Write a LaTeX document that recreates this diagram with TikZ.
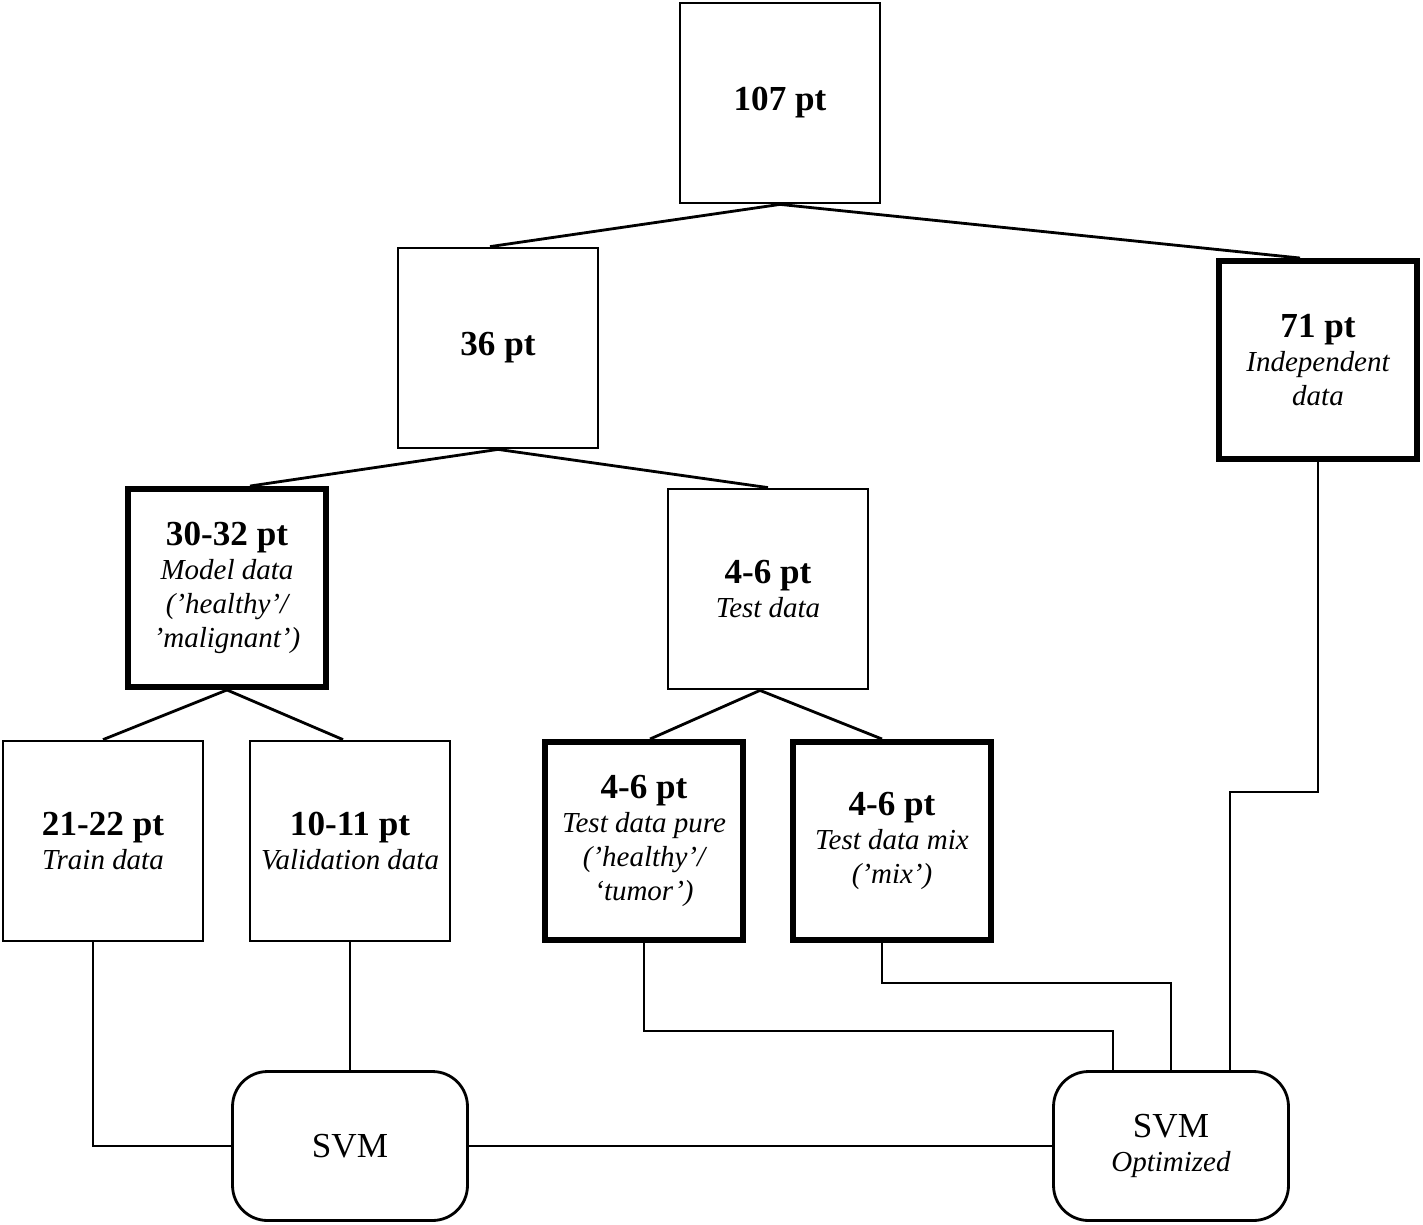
\documentclass[tikz,border=0pt]{standalone}
\usepackage{fontspec}
\setmainfont{Liberation Serif}
\usetikzlibrary{positioning,calc}

\newcommand{\ptnum}[1]{{\fontsize{20}{22}\selectfont\bfseries #1}}
\newcommand{\ptdesc}[1]{{\itshape #1}}

\begin{document}
\begin{tikzpicture}[
  x=0.02cm, y=-0.02cm,
  box/.style={rectangle, draw, line width=1.6pt, align=center, minimum width=4.0cm, minimum height=4.0cm, inner sep=2pt, font=\fontsize{16.5}{19.3}\selectfont},
  boldbox/.style={box, line width=3.4pt, minimum width=3.96cm, minimum height=3.96cm},
  svmbox/.style={rectangle, draw, rounded corners=0.7cm, line width=1.6pt, align=center, minimum width=4.7cm, minimum height=2.98cm, font=\fontsize{16.5}{19.3}\selectfont},
  link/.style={line width=1.6pt},
]
\useasboundingbox (0,0) rectangle (1423,1224);

% === SPLIT TREE ===
\node[box] (all) at (780,103) {\ptnum{107 pt}};
\node[box] (sub) at (498,348) {\ptnum{36 pt}};
\node[boldbox] (indep) at (1318,360) {\ptnum{71 pt}\\\ptdesc{Independent}\\\ptdesc{data}};
\node[boldbox] (model) at (227,588) {\ptnum{30-32 pt}\\\ptdesc{Model data}\\\ptdesc{(’healthy’/}\\\ptdesc{’malignant’)}};
\node[box] (test) at (768,589) {\ptnum{4-6 pt}\\\ptdesc{Test data}};
\node[box] (train) at (103,841) {\ptnum{21-22 pt}\\\ptdesc{Train data}};
\node[box] (valid) at (350,841) {\ptnum{10-11 pt}\\\ptdesc{Validation data}};
\node[boldbox] (pure) at (644,841) {\ptnum{4-6 pt}\\\ptdesc{Test data pure}\\\ptdesc{(’healthy’/}\\\ptdesc{‘tumor’)}};
\node[boldbox] (mix) at (892,841) {\ptnum{4-6 pt}\\\ptdesc{Test data mix}\\\ptdesc{(’mix’)}};

\draw[link] (all.south) -- ([xshift=-0.16cm]sub.north);
\draw[link] (all.south) -- ([xshift=-0.36cm]indep.north);
\draw[link] (sub.south) -- ([xshift=0.46cm]model.north);
\draw[link] (sub.south) -- (test.north);
\draw[link] (model.south) -- (train.north);
\draw[link] (model.south) -- ([xshift=-0.14cm]valid.north);
\draw[link] ([xshift=-0.16cm]test.south) -- ([xshift=0.12cm]pure.north);
\draw[link] ([xshift=-0.16cm]test.south) -- ([xshift=-0.2cm]mix.north);

% === CLASSIFIERS ===
\node[svmbox] (svm) at (350,1146) {{\fontsize{20}{22}\selectfont SVM}};
\node[svmbox] (svmopt) at (1171,1146) {{\fontsize{20}{22}\selectfont SVM}\\\ptdesc{Optimized}};

\draw[link] ([xshift=-0.2cm]train.south) |- (svm.west);
\draw[link] (valid.south) -- (svm.north);
\draw[link] (svm.east) -- (svmopt.west);
\draw[link] (pure.south) -- ++(0,88) -| ([xshift=-1.16cm]svmopt.north);
\draw[link] ([xshift=-0.2cm]mix.south) -- ++(0,40) -| (svmopt.north);
\draw[link] (indep.south) -- ++(0,330) -| ([xshift=1.18cm]svmopt.north);
\end{tikzpicture}
\end{document}
